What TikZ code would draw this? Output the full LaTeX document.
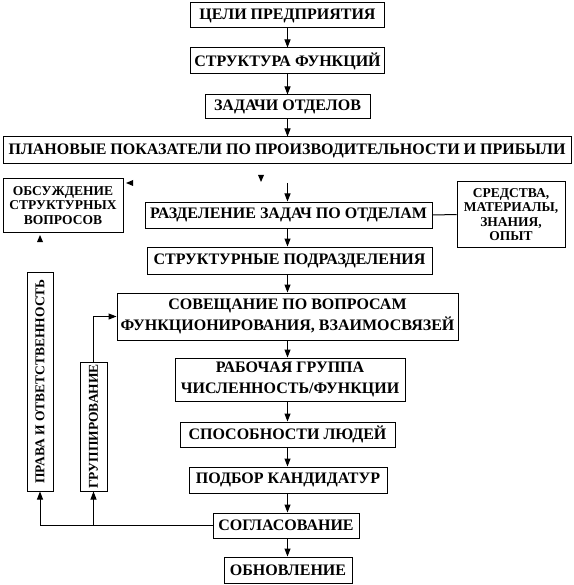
\documentclass[tikz,border=0pt]{standalone}
\usepackage{fontspec}
\setmainfont{Liberation Serif}
\usetikzlibrary{arrows.meta}
\begin{document}
\begin{tikzpicture}[x=1pt,y=-1pt,
  box/.style={draw,line width=1pt,inner sep=0pt,align=center,font=\fontsize{16}{21}\selectfont\bfseries},
  sbox/.style={draw,line width=1pt,inner sep=0pt,align=center,font=\fontsize{13.5}{14.5}\selectfont\bfseries},
  vbox/.style={draw,line width=1pt,inner sep=0pt},
  vtext/.style={rotate=90,inner sep=0pt,font=\fontsize{13.5}{14}\selectfont\bfseries},
  arr/.style={line width=1pt,-{Triangle[length=8pt,width=6pt]}},
  ln/.style={line width=1pt},
  tip/.style={fill=black}]
\useasboundingbox (0,0) rectangle (573,585);
\coordinate (ax) at (287.5,0);
\node[box,minimum width=194,minimum height=25] (n1) at (287.5,15.5) {ЦЕЛИ ПРЕДПРИЯТИЯ};
\node[box,minimum width=194,minimum height=26] (n2) at (287.5,61) {СТРУКТУРА ФУНКЦИЙ};
\node[box,minimum width=165,minimum height=24] (n3) at (287.5,107) {ЗАДАЧИ ОТДЕЛОВ};
\node[box,minimum width=568,minimum height=27] (n4) at (287,150.5) {ПЛАНОВЫЕ ПОКАЗАТЕЛИ ПО ПРОИЗВОДИТЕЛЬНОСТИ И ПРИБЫЛИ};
\node[sbox,minimum width=120,minimum height=53] (n5) at (63,205.5) {ОБСУЖДЕНИЕ\\СТРУКТУРНЫХ\\ВОПРОСОВ};
\node[box,minimum width=287,minimum height=26] (n6) at (288.5,215) {РАЗДЕЛЕНИЕ ЗАДАЧ ПО ОТДЕЛАМ};
\node[sbox,minimum width=108,minimum height=65] (n7) at (511,214.5) {СРЕДСТВА,\\МАТЕРИАЛЫ,\\ЗНАНИЯ,\\ОПЫТ};
\node[box,minimum width=285,minimum height=27] (n8) at (289.5,260.5) {СТРУКТУРНЫЕ ПОДРАЗДЕЛЕНИЯ};
\node[box,minimum width=341,minimum height=47] (n9) at (287.5,316.5) {СОВЕЩАНИЕ ПО ВОПРОСАМ\\ФУНКЦИОНИРОВАНИЯ, ВЗАИМОСВЯЗЕЙ};
\node[box,minimum width=230,minimum height=43] (n10) at (290,379.5) {РАБОЧАЯ ГРУППА\\ЧИСЛЕННОСТЬ/ФУНКЦИИ};
\node[box,minimum width=215,minimum height=25] (n11) at (287.5,434.5) {СПОСОБНОСТИ ЛЮДЕЙ};
\node[box,minimum width=198,minimum height=26] (n12) at (288,480) {ПОДБОР КАНДИДАТУР};
\node[box,minimum width=146,minimum height=25] (n13) at (286,525.5) {СОГЛАСОВАНИЕ};
\node[box,minimum width=128,minimum height=26] (n14) at (288,570) {ОБНОВЛЕНИЕ};
\node[vbox,minimum width=26,minimum height=219] (v1) at (40,381.5) {};
\node[vtext] (v1t) at (v1.center) {ПРАВА И ОТВЕТСТВЕННОСТЬ};
\node[vbox,minimum width=27,minimum height=129] (v2) at (93.5,426.5) {};
\node[vtext] (v2t) at (v2.center) {ГРУППИРОВАНИЕ};
% main chain
\draw[arr] (n1.south -| ax) -- (n2.north -| ax);
\draw[arr] (n2.south -| ax) -- (n3.north -| ax);
\draw[arr] (n3.south -| ax) -- (n4.north -| ax);
\coordinate (s6) at (287.5,183);
\draw[arr] (s6) -- (n6.north -| ax);
\draw[arr] (n6.south -| ax) -- (n8.north -| ax);
\draw[arr] (n8.south -| ax) -- (n9.north -| ax);
\draw[arr] (n9.south -| ax) -- (n10.north -| ax);
\draw[arr] (n10.south -| ax) -- (n11.north -| ax);
\draw[arr] (n11.south -| ax) -- (n12.north -| ax);
\draw[arr] (n12.south -| ax) -- (n13.north -| ax);
\draw[arr] (n13.south -| ax) -- (n14.north -| ax);
% side links
\draw[ln] (n6.east) -- (n7.west);
\draw[arr] (n13.west) -| (v1.south);
\draw[arr] (v2.south |- n13.west) -- (v2.south);
\draw[arr] (v2.north) |- (n9.west);
% stray arrowheads
\fill[tip] (258,175) -- (264,175) -- (261,182) -- cycle;
\fill[tip] (126,183) -- (133,180) -- (133,186) -- cycle;
\fill[tip] (40,235) -- (37,242) -- (43,242) -- cycle;
\end{tikzpicture}
\end{document}
